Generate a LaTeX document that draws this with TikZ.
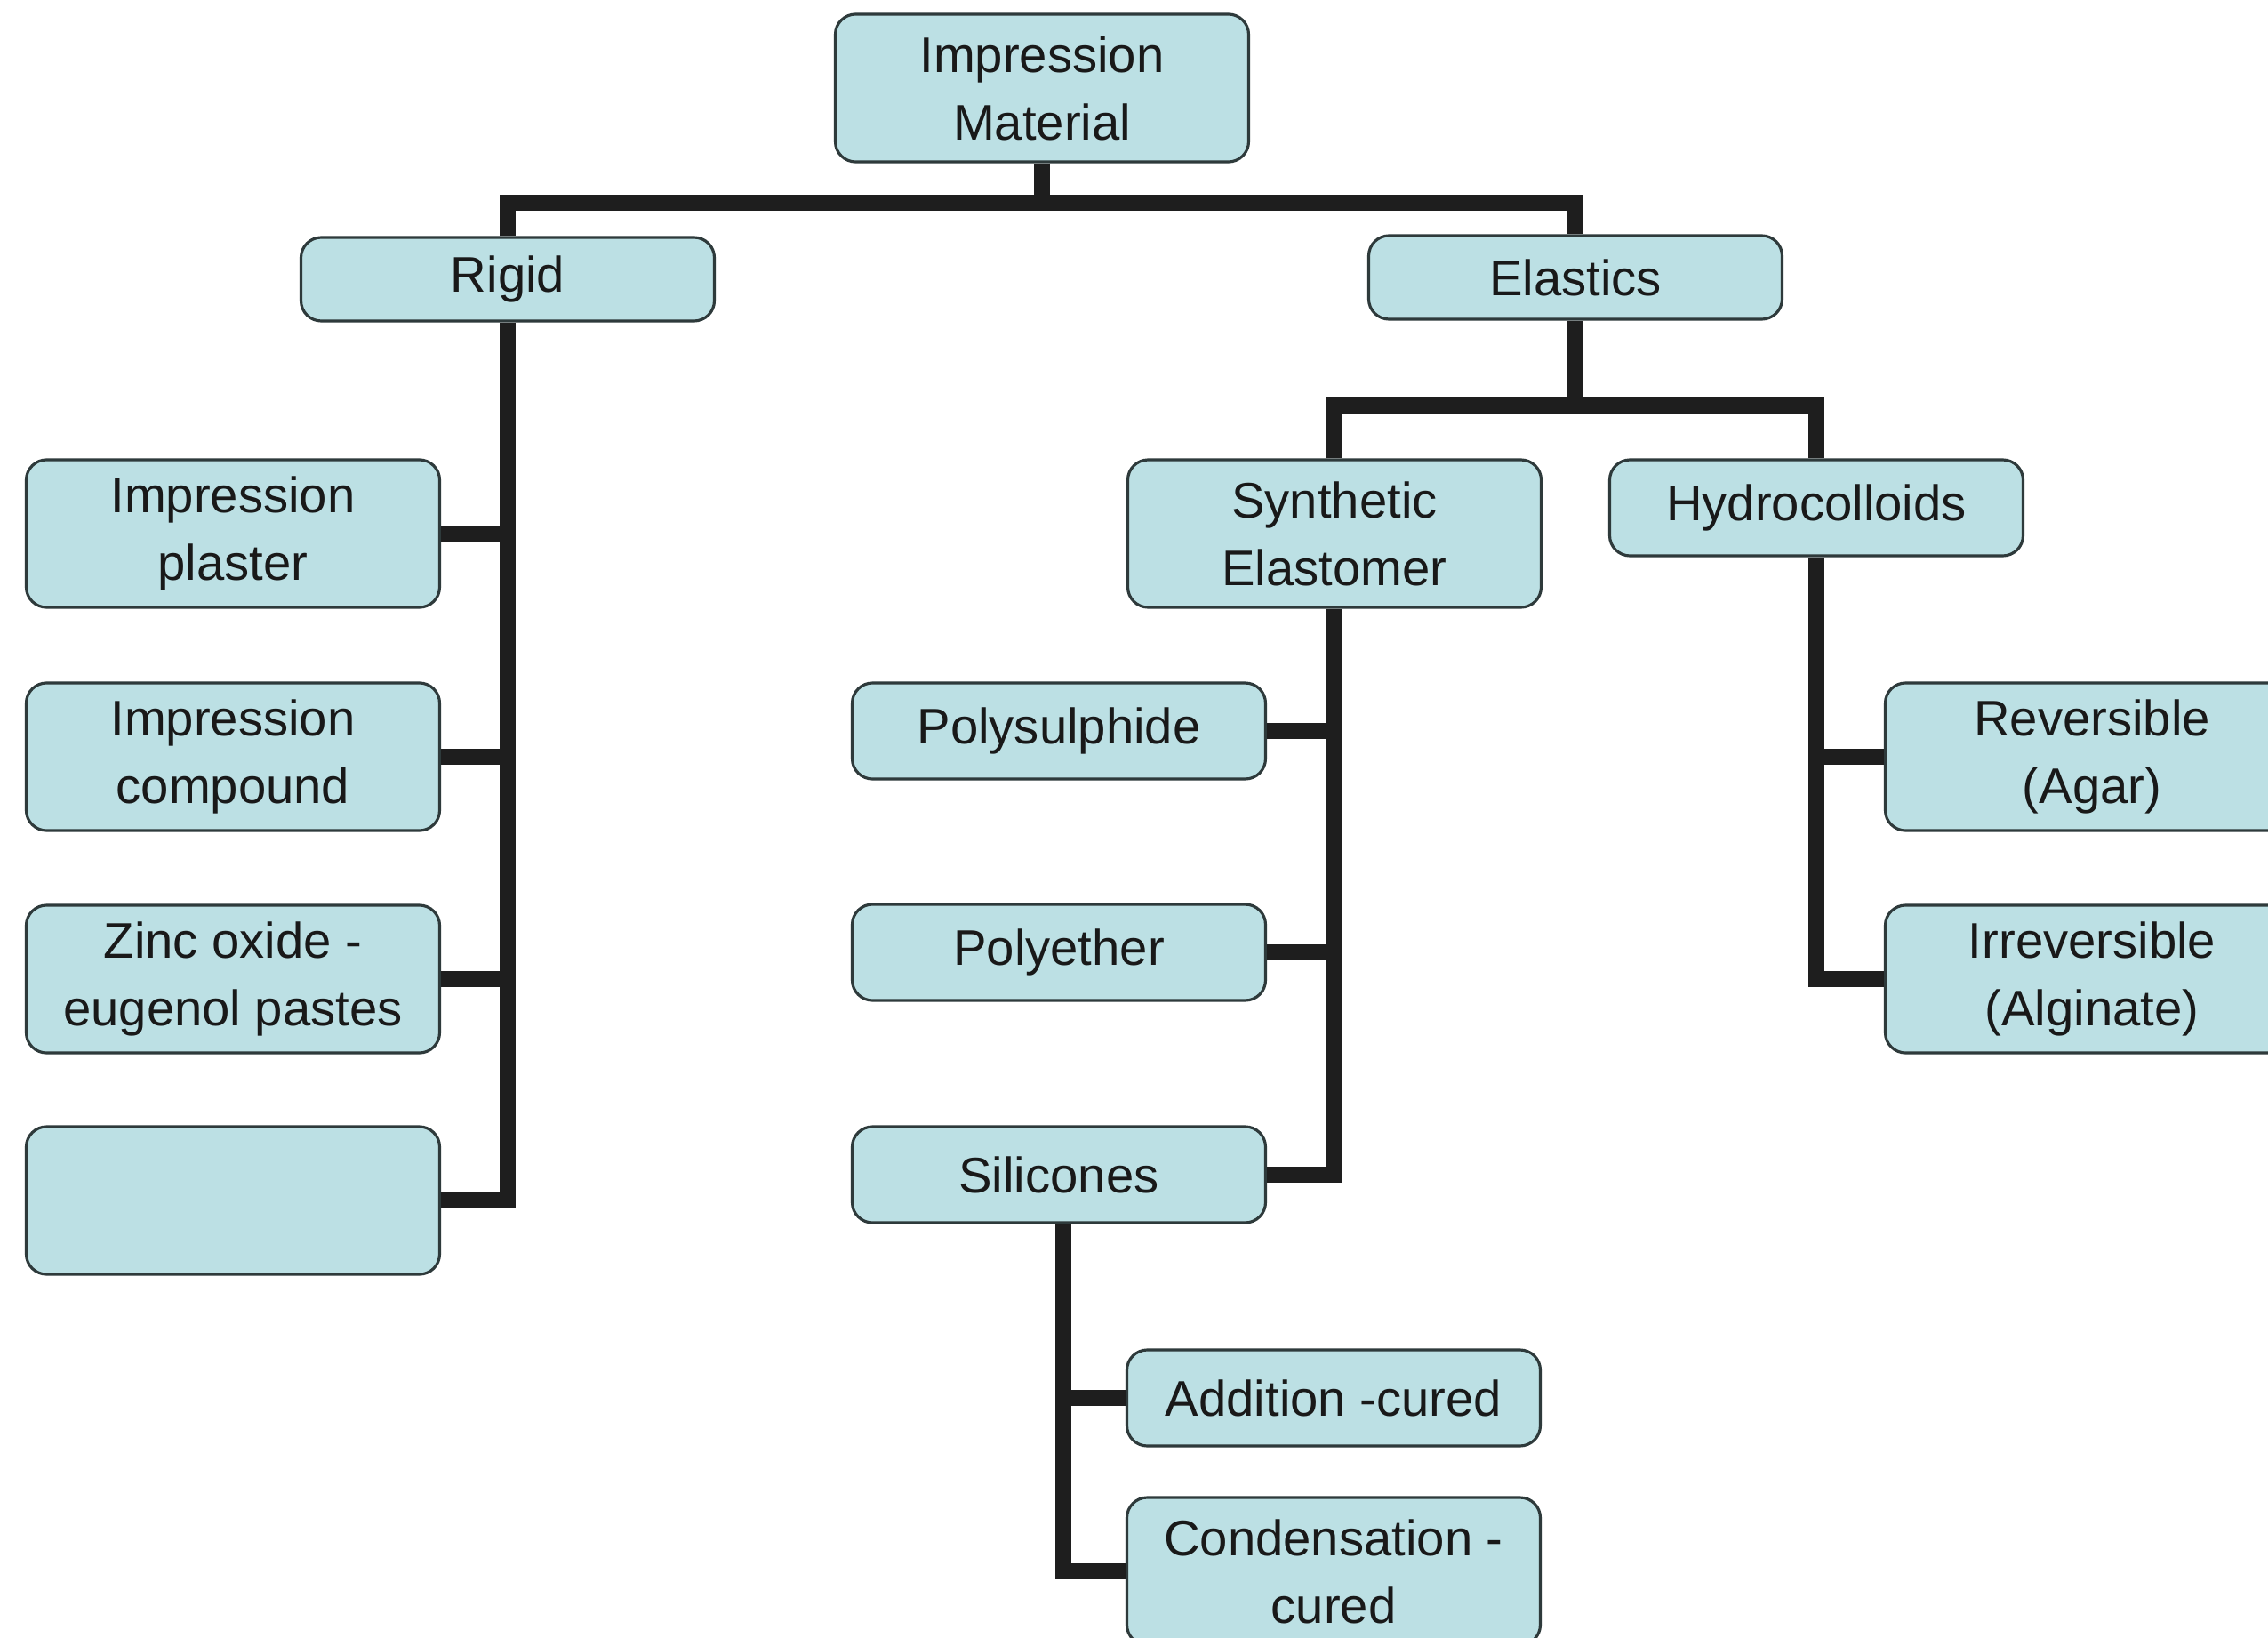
\documentclass[tikz,border=0pt]{standalone}
\usepackage{fontspec}
\setmainfont{Liberation Sans}
\usepackage{tikz}
\usetikzlibrary{positioning,calc}
\definecolor{boxfill}{HTML}{BCE0E4}
\definecolor{boxline}{HTML}{2E3A3B}
\definecolor{linkgray}{HTML}{1E1E1E}
\tikzset{
  box/.style  ={rectangle, rounded corners=6.5pt, draw=boxline, line width=0.9pt,
                fill=boxfill, minimum width=4.65cm, minimum height=1.66cm,
                inner sep=0pt, align=center, text=black!90,
                font=\fontsize{16}{21.6}\selectfont},
  sbox/.style ={box, minimum height=1.08cm},
  tbox/.style ={box, minimum height=0.94cm},
  link/.style ={line width=5.2pt, draw=linkgray}
}

\begin{document}
\begin{tikzpicture}
\useasboundingbox[fill=white] (0,0) rectangle (25.51,-18.42);
% top level
\node[box]  (mat)   at (11.72,-0.99) {Impression\\Material};
\node[tbox] (rigid) at (5.71,-3.14)  {Rigid};
\node[tbox] (elast) at (17.72,-3.12) {Elastics};
% rigid materials
\node[box] (plaster)  at (2.62,-6.00)  {Impression\\plaster};
\node[box] (compound) at (2.62,-8.51)  {Impression\\compound};
\node[box] (zinc)     at (2.62,-11.01) {Zinc oxide -\\eugenol pastes};
\node[box] (blank)    at (2.62,-13.50) {};
% elastic materials
\node[box]  (synth) at (15.01,-6.00) {Synthetic\\Elastomer};
\node[sbox] (hydro) at (20.43,-5.71) {Hydrocolloids};
\node[sbox] (polys) at (11.91,-8.22)  {Polysulphide};
\node[sbox] (polye) at (11.91,-10.71) {Polyether};
\node[sbox] (silic) at (11.91,-13.21) {Silicones};
\node[box]  (rev)   at (23.53,-8.51)  {Reversible\\(Agar)};
\node[box]  (irrev) at (23.53,-11.01) {Irreversible\\(Alginate)};
\node[sbox] (add)   at (15.00,-15.72) {Addition -cured};
\node[box]  (cond)  at (15.00,-17.67) {Condensation -\\cured};
% connectors
\coordinate (top bar) at (11.72,-2.28);
\coordinate (el bar)  at (17.72,-4.56);
\coordinate (si stem) at ($(silic.south)+(0.05,0)$);
\draw[link] (mat.south) -- (top bar);
\draw[link] (rigid.north) |- (top bar) -| (elast.north);
\draw[link] (elast.south) -- (el bar);
\draw[link] (synth.north) |- (el bar) -| (hydro.north);
\draw[link] (rigid.south) |- (blank.east);
\foreach \n in {plaster,compound,zinc}{\draw[link] (\n.east) -- (\n.east -| rigid.south);}
\draw[link] (synth.south) |- (silic.east);
\foreach \n in {polys,polye}{\draw[link] (\n.east) -- (\n.east -| synth.south);}
\draw[link] (hydro.south) |- (irrev.west);
\draw[link] (rev.west) -- (rev.west -| hydro.south);
\draw[link] (si stem) |- (cond.west);
\draw[link] (add.west) -- (add.west -| si stem);
\end{tikzpicture}
\end{document}
